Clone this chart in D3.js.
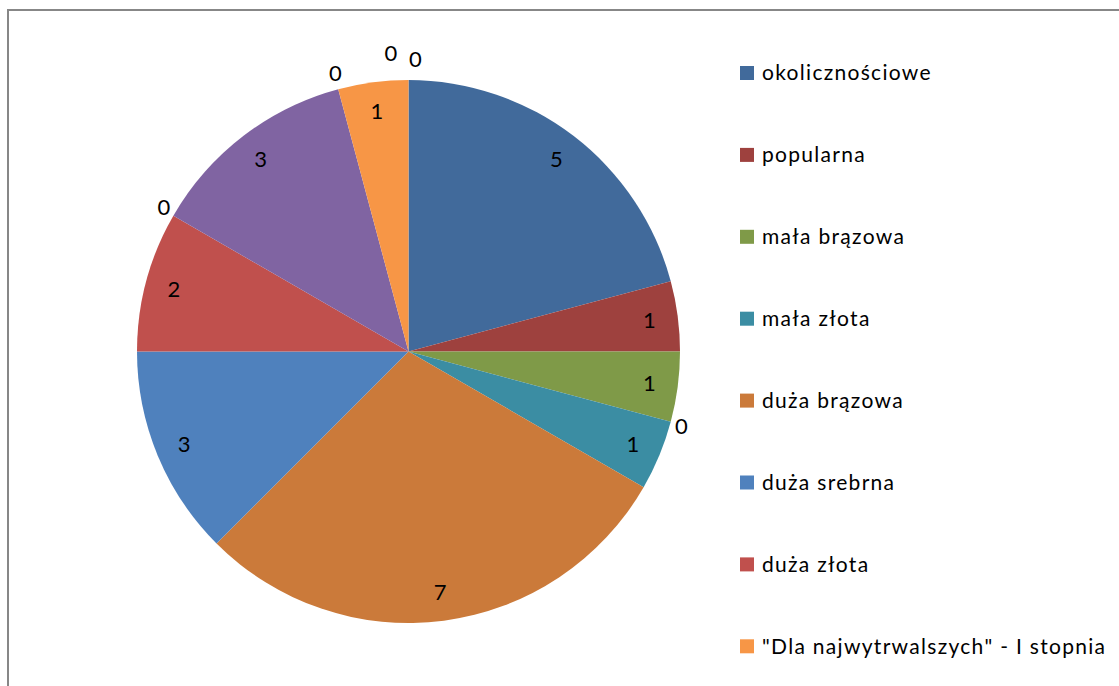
<!DOCTYPE html>
<html>
<head>
<meta charset="utf-8">
<script src="https://cdn.jsdelivr.net/npm/d3@7"></script>
<style>
  body { margin: 0; background: #fff; }
  svg text { font-family: Lato, "Open Sans", sans-serif; fill: #000; }
</style>
</head>
<body>
<div id="pie-chart"></div>
<script>
// categories in sheet order (unnamed rows are not in the visible legend)
var categories = ["okolicznościowe", "popularna", "mała brązowa", "mała srebrna", "mała złota",
  "duża brązowa", "duża srebrna", "duża złota", "kategoria 9", "kategoria 10", "kategoria 11",
  "\"Dla najwytrwalszych\" - I stopnia", "\"Dla najwytrwalszych\" - II stopnia",
  "\"Dla najwytrwalszych\" - III stopnia"];
var values = [5, 1, 1, 0, 1, 7, 3, 2, 0, 3, 0, 1, 0, 0];
var colors = ["#416a9b", "#9e413e", "#7f9a48", "#67527f", "#3b8da3", "#cb7a3a",
  "#4f81bd", "#c0504d", "#9bbb59", "#8064a2", "#4bacc6", "#f79646", "#b9cde5", "#e6b9b8"];
var legendShown = [0, 1, 2, 4, 5, 6, 7, 11];

var width = 1119, height = 686;
var cx = 408.5, cy = 351.5, radius = 271.5;

var svg = d3.select("#pie-chart").append("svg")
    .attr("width", width)
    .attr("height", height);

// chart area border (only top and left are inside the window)
svg.append("rect")
    .attr("x", 8)
    .attr("y", 10)
    .attr("width", width + 20)
    .attr("height", height + 20)
    .attr("fill", "none")
    .attr("stroke", "#878787")
    .attr("stroke-width", 2);

var data = categories.map(function(c, i) {
  return {name: c, value: values[i], color: colors[i], i: i};
});

var pie = d3.pie()
    .sort(null)
    .value(function(d) { return d.value; });

var arc = d3.arc()
    .innerRadius(0)
    .outerRadius(radius);

var arcs = pie(data);

var g = svg.append("g")
    .attr("transform", "translate(" + cx + "," + cy + ")");

g.selectAll(".slice")
    .data(arcs)
  .enter().append("path")
    .attr("class", "slice")
    .attr("d", arc)
    .attr("fill", function(d) { return d.data.color; });

// data labels: inside for real slices, just outside the rim for zero ones
var labelR = 243;
var seen = {};
var labels = arcs.map(function(d) {
  var a = (d.startAngle + d.endAngle) / 2;
  if (d.value > 0) {
    return {x: Math.sin(a) * labelR, y: -Math.cos(a) * labelR, v: d.value};
  }
  var key = a.toFixed(3);
  var k = seen[key] || 0;
  seen[key] = k + 1;
  // zero labels stacked on the same angle get pushed aside
  if (k > 0) a = a - k * 0.06;
  var r = radius + 6 + k * 10;
  var x = Math.sin(a) * r + Math.sin(a) * 5,
      y = -Math.cos(a) * r - Math.cos(a) * 11;
  if (key === "6.283" && k === 0) { x += 7; y -= 4; }
  return {x: x, y: y, v: d.value};
});

g.selectAll(".label")
    .data(labels)
  .enter().append("text")
    .attr("class", "label")
    .attr("x", function(d) { return d.x; })
    .attr("y", function(d) { return d.y; })
    .attr("dy", "0.36em")
    .attr("text-anchor", "middle")
    .style("font-size", "22px")
    .text(function(d) { return d.v; });

// legend
var legend = svg.append("g")
    .attr("class", "legend");

var item = legend.selectAll(".item")
    .data(legendShown.map(function(i) { return data[i]; }))
  .enter().append("g")
    .attr("class", "item")
    .attr("transform", function(d, j) { return "translate(740," + (73 + j * 81.9) + ")"; });

item.append("rect")
    .attr("x", 0)
    .attr("y", -7)
    .attr("width", 14)
    .attr("height", 14)
    .attr("fill", function(d) { return d.color; });

item.append("text")
    .attr("x", 22)
    .attr("dy", "0.35em")
    .style("font-size", "21px")
    .style("letter-spacing", "1.3px")
    .text(function(d) { return d.name; });
</script>
</body>
</html>
